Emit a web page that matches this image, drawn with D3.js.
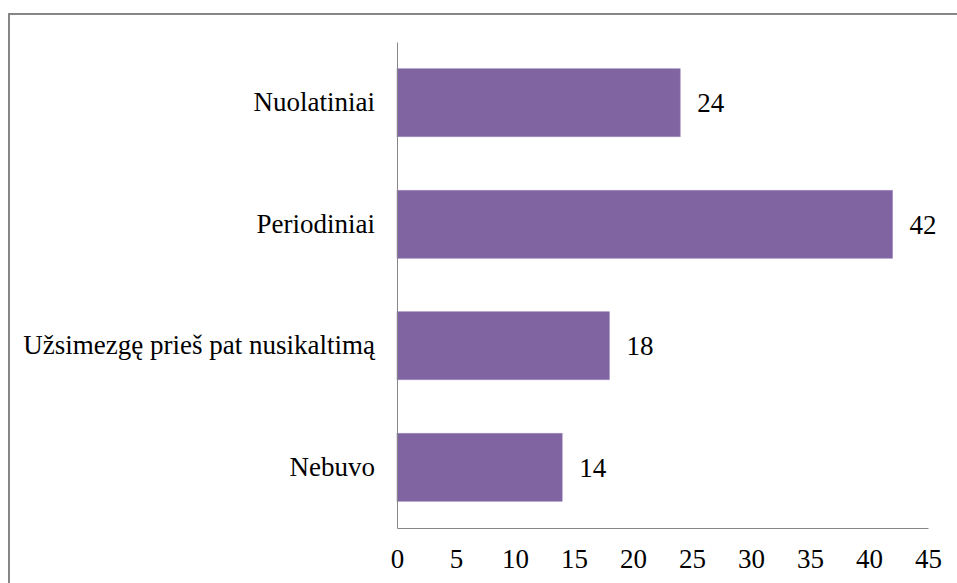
<!DOCTYPE html>
<html><head><meta charset="utf-8">
<script src="https://cdn.jsdelivr.net/npm/d3@7"></script>
<style>body{margin:0;background:#fff;}svg{display:block;}</style>
</head><body>
<script>
const categories = ["Nuolatiniai", "Periodiniai", "Užsimezgę prieš pat nusikaltimą", "Nebuvo"];
const values = [24, 42, 18, 14];
const xTicks = [0, 5, 10, 15, 20, 25, 30, 35, 40, 45];

const W = 957, H = 583;
const svg = d3.select("body").append("svg").attr("width", W).attr("height", H);
const fs = 27;
const font = "Liberation Serif, Times New Roman, serif";

// outer chart-area frame (extends past the right and bottom edges)
svg.append("rect").attr("x", 9).attr("y", 14).attr("width", 960).attr("height", 600)
  .attr("fill", "none").attr("stroke", "#868686").attr("stroke-width", 2);

const x = d3.scaleLinear().domain([0, 45]).range([397, 928]);
const y = d3.scaleBand().domain(categories).range([42, 528]).paddingInner(0.44).paddingOuter(0.22);

svg.selectAll("rect.bar").data(categories).enter().append("rect")
  .attr("class", "bar")
  .attr("x", x(0))
  .attr("y", d => y(d))
  .attr("width", (d, i) => x(values[i]) - x(0))
  .attr("height", y.bandwidth())
  .attr("fill", "#8064A2")
  .attr("stroke", "#A08CC0").attr("stroke-width", 0.6);

const yAxis = d3.axisLeft(y).tickSize(0).tickPadding(22);
const gy = svg.append("g").attr("transform", `translate(${x(0)},0)`).call(yAxis);
gy.select(".domain").attr("stroke", "#868686");
gy.selectAll("text").attr("font-family", font).attr("font-size", fs).attr("fill", "#000");

const xAxis = d3.axisBottom(x).tickValues(xTicks).tickSize(0).tickPadding(21);
const gx = svg.append("g").attr("transform", `translate(0,528)`).call(xAxis);
gx.select(".domain").attr("stroke", "#868686");
gx.selectAll("text").attr("font-family", font).attr("font-size", fs).attr("fill", "#000");

svg.selectAll("text.val").data(categories).enter().append("text")
  .attr("class", "val")
  .attr("x", (d, i) => x(values[i]) + 17)
  .attr("y", d => y(d) + y.bandwidth() / 2)
  .attr("dy", "0.35em")
  .attr("font-family", font).attr("font-size", fs).attr("fill", "#000")
  .text((d, i) => values[i]);
</script>
</body></html>
